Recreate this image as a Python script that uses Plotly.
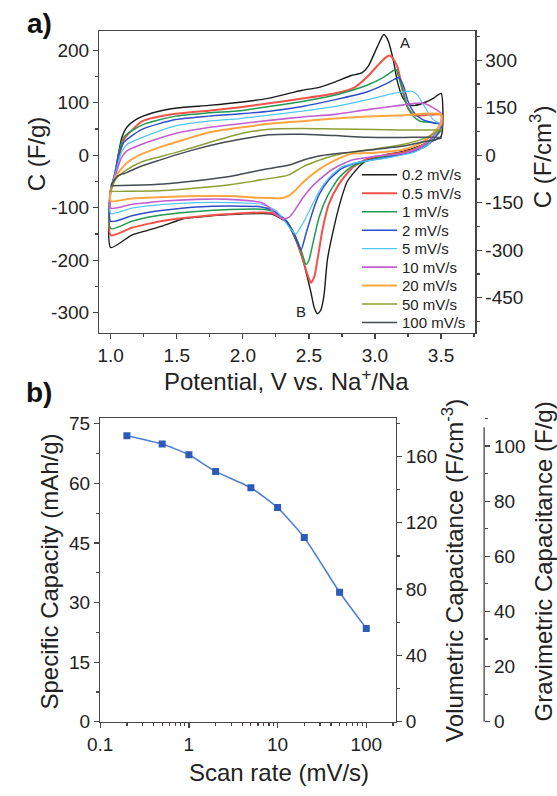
import plotly.graph_objects as go

W, H = 557, 796
FONT = "Liberation Sans, Arial, sans-serif"
INK = "#222222"
AX = "#4a4444"

# ---------------- data: panel a) cyclic voltammograms ----------------
rates_a = ["0.2 mV/s", "0.5 mV/s", "1 mV/s", "2 mV/s", "5 mV/s",
           "10 mV/s", "20 mV/s", "50 mV/s", "100 mV/s"]
colors_a = ["#1b1b1b", "#f2524a", "#1f9a52", "#2c4fc9", "#52c6ef",
            "#c25fd2", "#ffa542", "#8c9f34", "#454b52"]

# upper (anodic) branches 1.0 -> 3.5 V
v_up_02 = [1.0, 1.035, 1.059, 1.084, 1.12, 1.19, 1.32, 1.5, 1.74, 1.98, 2.2, 2.45, 2.57, 2.7, 2.82, 2.9, 2.95, 3.02, 3.067, 3.1, 3.14, 3.17, 3.21, 3.25, 3.3, 3.39, 3.45, 3.5]
c_up_02 = [-65, -40, 3, 34, 53, 68, 81, 90, 95, 101, 109, 124, 129, 140, 152, 157, 170, 208, 230, 218, 180, 140, 110, 97, 95, 102, 110, 118]
v_up_05 = [1.0, 1.03, 1.06, 1.1, 1.15, 1.24, 1.49, 1.74, 1.98, 2.2, 2.45, 2.7, 2.85, 2.94, 3.02, 3.08, 3.11, 3.14, 3.17, 3.215, 3.25, 3.3, 3.4, 3.5]
c_up_05 = [-65, -45, -5, 30, 45, 65, 79, 85, 91.5, 99, 108, 118, 130, 149, 171, 186, 190, 183, 168, 121, 90, 76, 77, 77]
v_up_1 = [1.0, 1.03, 1.06, 1.1, 1.24, 1.49, 1.74, 1.98, 2.2, 2.45, 2.7, 2.944, 3.067, 3.14, 3.16, 3.19, 3.23, 3.28, 3.34, 3.44, 3.5]
c_up_1 = [-66, -38, 5, 35, 58, 74.6, 80.8, 85, 93, 102.6, 115, 134, 149, 161.5, 163, 140, 103, 77, 65, 62, 59]
v_up_2 = [1.0, 1.03, 1.06, 1.1, 1.24, 1.49, 1.74, 1.98, 2.2, 2.45, 2.7, 2.944, 3.09, 3.15, 3.18, 3.215, 3.25, 3.3, 3.36, 3.44, 3.5]
c_up_2 = [-66, -35, 0, 25, 49.7, 68, 74.6, 79, 84, 93, 106, 121, 137, 145, 148, 133, 103, 80, 68, 62, 59]
v_up_5 = [1.0, 1.04, 1.08, 1.12, 1.24, 1.49, 1.74, 1.98, 2.2, 2.45, 2.7, 2.944, 3.14, 3.22, 3.28, 3.32, 3.37, 3.44, 3.5]
c_up_5 = [-68, -30, 5, 20, 34, 56, 65, 70, 76.5, 84, 93, 106, 118, 121, 122, 115, 95, 68, 59]
v_up_10 = [1.0, 1.04, 1.08, 1.12, 1.24, 1.49, 1.74, 1.98, 2.2, 2.45, 2.7, 2.944, 3.19, 3.3, 3.37, 3.43, 3.5]
c_up_10 = [-68, -35, -5, 8, 21.7, 41.6, 52.8, 60, 66.5, 73, 78, 87, 95, 99, 99, 92, 80]
v_up_20 = [1.0, 1.04, 1.12, 1.24, 1.37, 1.49, 1.74, 1.98, 2.2, 2.45, 2.7, 2.944, 3.19, 3.5]
c_up_20 = [-70, -40, -15, 3, 15, 24.8, 43.5, 52.8, 60, 65, 70, 74, 76, 78]
v_up_50 = [1.0, 1.04, 1.12, 1.24, 1.49, 1.74, 1.98, 2.2, 2.45, 2.7, 3.0, 3.5]
c_up_50 = [-68, -45, -28, -12, 5, 24, 41, 49.7, 51, 50, 49, 49]
v_up_100 = [1.0, 1.05, 1.12, 1.24, 1.37, 1.61, 1.86, 2.06, 2.2, 2.45, 2.7, 2.94, 3.2, 3.5]
c_up_100 = [-58, -40, -33, -20, -9.3, 9.3, 24.8, 34, 39, 40, 37.5, 34.5, 34, 34]

# lower (cathodic) branches 3.5 -> 1.0 V
v_lo_02 = [3.5, 3.4, 3.3, 3.2, 3.07, 2.95, 2.89, 2.79, 2.74, 2.69, 2.64, 2.614, 2.59, 2.565, 2.54, 2.515, 2.454, 2.39, 2.33, 2.22, 2.14, 1.9, 1.65, 1.55, 1.4, 1.28, 1.16, 1.0]
c_lo_02 = [36, 24, 14, 7, 0, -8, -19, -50, -87, -137, -199, -267, -295, -302, -290, -261, -199, -155, -128, -112, -111, -113, -118, -121, -134, -143, -152, -176]
v_lo_05 = [3.5, 3.45, 3.4, 3.3, 3.2, 3.07, 2.946, 2.823, 2.725, 2.65, 2.602, 2.565, 2.54, 2.515, 2.49, 2.454, 2.39, 2.33, 2.22, 2.14, 1.9, 1.65, 1.4, 1.28, 1.16, 1.0]
c_lo_05 = [48, 35, 25, 12, 5, 0, -6, -25, -56, -93.5, -143, -199, -232, -243, -228, -199, -152, -127, -110, -109, -112, -117, -124.6, -130.7, -138.2, -152.5]
v_lo_1 = [3.5, 3.45, 3.4, 3.3, 3.2, 3.07, 2.95, 2.82, 2.725, 2.64, 2.577, 2.53, 2.5, 2.478, 2.44, 2.39, 2.33, 2.22, 2.14, 1.9, 1.65, 1.4, 1.28, 1.16, 1.0]
c_lo_1 = [50, 33, 22, 10, 3, -3, -10, -22, -43.7, -78, -118, -168, -200, -208, -180, -150, -126, -106, -102.7, -103.4, -107, -113.3, -118.3, -125.8, -140]
v_lo_2 = [3.5, 3.45, 3.4, 3.3, 3.2, 3.07, 2.9, 2.75, 2.65, 2.577, 2.53, 2.478, 2.44, 2.39, 2.33, 2.22, 2.14, 1.9, 1.65, 1.4, 1.28, 1.16, 1.0]
c_lo_2 = [54, 33, 20, 8, 2, -5, -12, -25, -47, -75, -106, -149, -180, -152, -125, -104, -98.4, -96.5, -98.4, -104.6, -109, -115.2, -125.8]
v_lo_5 = [3.5, 3.45, 3.4, 3.3, 3.2, 3.07, 2.9, 2.75, 2.65, 2.577, 2.515, 2.454, 2.4, 2.36, 2.3, 2.25, 2.14, 1.9, 1.65, 1.4, 1.28, 1.16, 1.0]
c_lo_5 = [58, 36, 20, 6, 0, -6, -12, -22, -43.7, -68.5, -99.6, -130, -150, -140, -120, -105, -93.4, -90.2, -90.2, -93.4, -96.5, -100.8, -110.8]
v_lo_10 = [3.5, 3.45, 3.4, 3.3, 3.2, 3.0, 2.82, 2.67, 2.577, 2.515, 2.454, 2.39, 2.35, 2.309, 2.25, 2.2, 2.14, 1.9, 1.65, 1.4, 1.28, 1.16, 1.0]
c_lo_10 = [65, 40, 25, 10, 3, -2, -9.4, -28, -47, -62, -81, -106, -118, -121, -112, -100, -90.2, -84, -84, -87.2, -90.2, -93.4, -100.8]
v_lo_20 = [3.5, 3.45, 3.4, 3.3, 3.2, 3.0, 2.82, 2.7, 2.577, 2.454, 2.4, 2.35, 2.29, 2.22, 2.14, 1.9, 1.65, 1.4, 1.16, 1.0]
c_lo_20 = [60, 45, 32, 18, 10, 5, 3, -9.4, -27, -52, -66, -77, -82, -81.5, -81, -77.8, -77.8, -79.7, -82.2, -87.2]
v_lo_50 = [3.5, 3.4, 3.3, 3.2, 3.0, 2.82, 2.7, 2.577, 2.454, 2.35, 2.14, 1.9, 1.65, 1.4, 1.16, 1.0]
c_lo_50 = [50, 35, 26, 20, 12, 6, 0, -9.4, -22, -37.4, -46.7, -56, -62.3, -67.2, -68.5, -68.5]
v_lo_100 = [3.5, 3.4, 3.3, 3.2, 3.0, 2.82, 2.577, 2.454, 2.35, 2.14, 1.9, 1.65, 1.4, 1.16, 1.0]
c_lo_100 = [33, 27, 22, 17, 11, 6, -1.3, -9.4, -18.7, -28, -40.5, -48.6, -54.8, -57.3, -58]

v_up = [v_up_02, v_up_05, v_up_1, v_up_2, v_up_5, v_up_10, v_up_20, v_up_50, v_up_100]
c_up = [c_up_02, c_up_05, c_up_1, c_up_2, c_up_5, c_up_10, c_up_20, c_up_50, c_up_100]
v_lo = [v_lo_02, v_lo_05, v_lo_1, v_lo_2, v_lo_5, v_lo_10, v_lo_20, v_lo_50, v_lo_100]
c_lo = [c_lo_02, c_lo_05, c_lo_1, c_lo_2, c_lo_5, c_lo_10, c_lo_20, c_lo_50, c_lo_100]
widths_a = [1.4, 2.0, 1.5, 1.5, 1.2, 1.6, 2.0, 1.5, 1.5]

# ---------------- data: panel b) ----------------
scan_rate = [0.2, 0.5, 1, 2, 5, 10, 20, 50, 100]
spec_cap = [72.0, 69.9, 67.2, 63.0, 58.9, 53.9, 46.4, 32.6, 23.5]

# tick values / labels
xticks_a = [1.0, 1.5, 2.0, 2.5, 3.0, 3.5]
yticks_a_left = [-300, -200, -100, 0, 100, 200]
yticks_a_right = [-450, -300, -150, 0, 150, 300]
xticks_b = [0.1, 1, 10, 100]
xticklabels_b = ["0.1", "1", "10", "100"]
yticks_b_left = [0, 15, 30, 45, 60, 75]
yticks_b_vol = [0, 40, 80, 120, 160]
yticks_b_grav = [0, 20, 40, 60, 80, 100]
minor_b = [m * d for d in (0.1, 1, 10, 100) for m in range(2, 10)]


def fx(px):
    return px / W


def fy(py):
    return 1 - py / H


def labels(vals):
    return [str(v) for v in vals]


fig = go.Figure()

for i in range(len(rates_a)):
    vx = v_up[i] + v_lo[i] + [v_up[i][0]]
    cy = c_up[i] + c_lo[i] + [c_up[i][0]]
    fig.add_trace(go.Scatter(x=vx, y=cy, mode="lines", name=rates_a[i],
                             line=dict(color=colors_a[i], width=widths_a[i],
                                       shape="spline", smoothing=0.6),
                             xaxis="x", yaxis="y", showlegend=False, hoverinfo="skip"))

fig.add_trace(go.Scatter(x=scan_rate, y=spec_cap, mode="lines+markers",
                         line=dict(color="#4d7dd3", width=1.5, shape="spline", smoothing=0.5),
                         marker=dict(symbol="square", size=7, color="#2d5bb8"),
                         xaxis="x2", yaxis="y3", showlegend=False, hoverinfo="skip"))

# empty traces so the secondary axes are drawn
for ax_x, ax_y in (("x", "y2"), ("x2", "y4"), ("x2", "y5")):
    fig.add_trace(go.Scatter(x=[], y=[], xaxis=ax_x, yaxis=ax_y,
                             showlegend=False, hoverinfo="skip"))

tickfont = dict(family=FONT, size=19, color=INK)
common = dict(showline=True, linecolor=AX, linewidth=1.3, ticks="outside",
              ticklen=5, tickwidth=1.2, tickcolor=AX, showgrid=False,
              zeroline=False, tickfont=tickfont)


def minor(dt):
    return dict(dtick=dt, tick0=0, ticks="outside", ticklen=3, tickcolor=AX)


fig.update_layout(
    width=W, height=H, autosize=False,
    margin=dict(l=0, r=0, t=0, b=0),
    paper_bgcolor="white", plot_bgcolor="white",
    hovermode=False,
    xaxis=dict(domain=[fx(88.3), fx(473.3)], range=[0.913, 3.759], anchor="y",
               tickvals=xticks_a, tickformat=".1f", mirror=True,
               minor=dict(dtick=0.25, tick0=1.0, ticks="outside", ticklen=3, tickcolor=AX),
               **common),
    yaxis=dict(domain=[fy(334.3), fy(26.7)], range=[-337.9, 236.5], anchor="x",
               tickvals=yticks_a_left, ticktext=labels(yticks_a_left), minor=minor(50),
               **common),
    yaxis2=dict(overlaying="y", side="right", anchor="x", range=[-559.8, 391.8],
                tickvals=yticks_a_right, ticktext=labels(yticks_a_right), minor=minor(75),
                **common),
    xaxis2=dict(domain=[fx(89.3), fx(391.7)], type="log", range=[-1, 2.33], anchor="y3",
                tickvals=xticks_b, ticktext=xticklabels_b, mirror=True,
                minor=dict(tickvals=minor_b, ticks="outside", ticklen=3, tickcolor=AX),
                **common),
    yaxis3=dict(domain=[fy(731.5), fy(421.7)], range=[0, 76.4], anchor="x2",
                tickvals=yticks_b_left, ticktext=labels(yticks_b_left), minor=minor(7.5),
                **common),
    yaxis4=dict(overlaying="y3", side="right", anchor="x2", range=[0, 183.0],
                tickvals=yticks_b_vol, ticktext=labels(yticks_b_vol), minor=minor(20),
                **common),
    yaxis5=dict(overlaying="y3", side="right", anchor="free", position=fx(482.4),
                range=[0, 110.05], tickvals=yticks_b_grav, ticktext=labels(yticks_b_grav),
                minor=minor(10), **{**common, "showline": False}),
)

# gravimetric axis spine (shorter than the frame)
fig.add_shape(type="line", xref="paper", yref="y5", x0=fx(482.4), x1=fx(482.4),
              y0=0, y1=106.8, line=dict(color=AX, width=1.3))

# manual legend for panel a)
leg_y0, leg_dy = 173.3, 18.84
for i, name in enumerate(rates_a):
    yy = fy(leg_y0 + i * leg_dy)
    fig.add_shape(type="line", xref="paper", yref="paper", x0=fx(357.3), x1=fx(393.3),
                  y0=yy, y1=yy, line=dict(color=colors_a[i], width=max(widths_a[i], 1.4)))
    fig.add_annotation(xref="paper", yref="paper", x=fx(396.0), y=yy, text=name,
                       showarrow=False, xanchor="left", yanchor="middle",
                       font=dict(family=FONT, size=15, color=INK))

title_font = dict(family=FONT, size=24, color=INK)


def ann(px, py, text, angle=0, font=title_font, xanchor="center"):
    fig.add_annotation(xref="paper", yref="paper", x=fx(px), y=fy(py), text=text,
                       showarrow=False, textangle=angle, xanchor=xanchor, yanchor="middle",
                       font=font)


ann(25, 152, "C (F/g)", -90)
ann(540, 155, "C (F/cm<sup>3</sup>)", -90)
ann(280, 383, "Potential, V vs. Na<sup>+</sup>/Na")
ann(37, 578, "Specific Capacity (mAh/g)", -90)
ann(451, 577, "Volumetric Capacitance (F/cm<sup>-3</sup>)", -90)
ann(543.5, 568, "Gravimetric Capacitance (F/g)", -90)
ann(272, 783, "Scan rate (mV/s)")

bold = dict(family=FONT, size=28, color="#111111")
ann(27, 19, "<b>a)</b>", 0, bold)
ann(27, 395, "<b>b)</b>", 0, bold)

small = dict(family=FONT, size=15, color=INK)
ann(401, 38, "A", 0, small)
ann(295, 313, "B", 0, small)

fig.write_html("out.html", config={"displayModeBar": False, "staticPlot": True},
               post_script="document.body.style.margin='0px';"
               "document.body.style.overflow='hidden';")
